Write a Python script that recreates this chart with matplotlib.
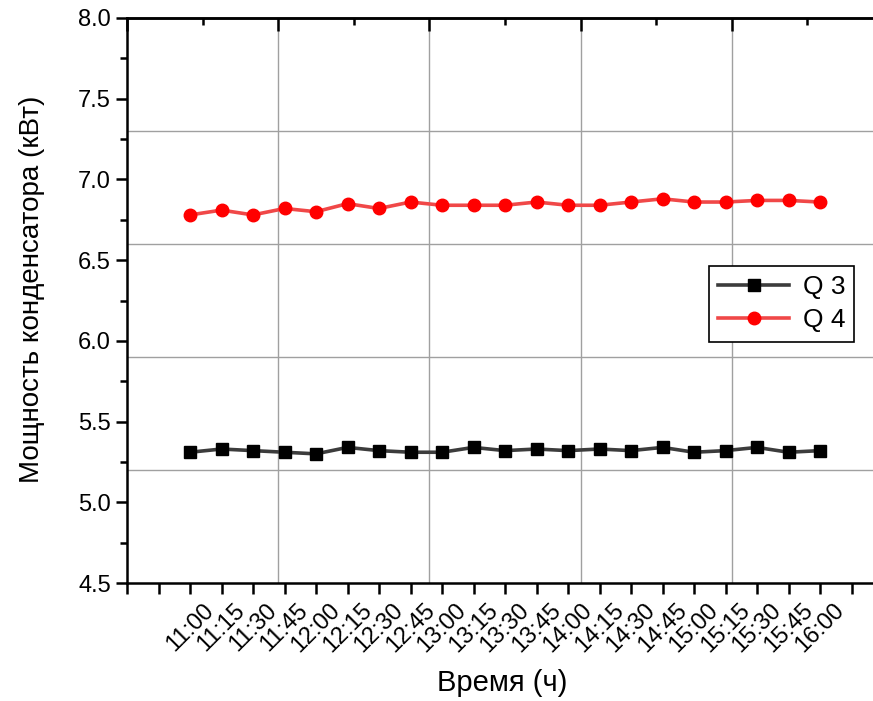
import matplotlib.pyplot as plt
import numpy as np

plt.rcParams['font.family'] = ['Liberation Sans', 'DejaVu Sans']

times = ['11:00', '11:15', '11:30', '11:45', '12:00', '12:15', '12:30', '12:45',
         '13:00', '13:15', '13:30', '13:45', '14:00', '14:15', '14:30', '14:45',
         '15:00', '15:15', '15:30', '15:45', '16:00']
q3 = [5.31, 5.33, 5.32, 5.31, 5.30, 5.34, 5.32, 5.31, 5.31, 5.34, 5.32,
      5.33, 5.32, 5.33, 5.32, 5.34, 5.31, 5.32, 5.34, 5.31, 5.32]
q4 = [6.78, 6.81, 6.78, 6.82, 6.80, 6.85, 6.82, 6.86, 6.84, 6.84, 6.84,
      6.86, 6.84, 6.84, 6.86, 6.88, 6.86, 6.86, 6.87, 6.87, 6.86]

W, H = 873, 701
fig = plt.figure(figsize=(W / 100, H / 100), dpi=100)
# axes run past the right edge of the picture (cropped like the original)
ax = fig.add_axes([127 / W, 1 - 583 / H, (883 - 127) / W, (583 - 18) / H])

x = np.arange(len(times))
ax.plot(x, q3, color='#3c3c3c', lw=2.6, marker='s', ms=9, mfc='black', mec='black', label='Q 3')
ax.plot(x, q4, color='#f04848', lw=2.6, marker='o', ms=9, mfc='red', mec='red', label='Q 4')

ax.set_xlim(-2, 22)
ax.set_ylim(4.5, 8.0)

# grid of Origin: 5 divisions over each axis
for gx in np.arange(-2, 22.01, 4.8)[1:-1]:
    ax.axvline(gx, color='#a0a0a0', lw=1, zorder=0)
for gy in np.arange(4.5, 8.01, 0.7)[1:-1]:
    ax.axhline(gy, color='#a0a0a0', lw=1, zorder=0)

ax.set_xticks(np.arange(-2, 22))
ax.set_xticklabels([''] * 2 + times + [''] * 1, rotation=45, ha='center', va='top')
ax.set_yticks(np.arange(4.5, 8.01, 0.5))
ax.set_yticks(np.arange(4.5, 8.01, 0.25), minor=True)
ax.tick_params(axis='both', labelsize=17, width=1.8, length=8, direction='out')
ax.tick_params(axis='x', labelsize=17, pad=4)
ax.tick_params(axis='y', which='minor', width=1.8, length=5)
ax.yaxis.set_major_formatter(plt.FormatStrFormatter('%.1f'))

for s in ax.spines.values():
    s.set_linewidth(1.8)

# top axis ticks (inside), like the Origin frame
top = ax.secondary_xaxis('top')
top.set_xticks(np.arange(-2, 22.01, 4.8))
top.set_xticks(np.arange(-2, 22.01, 2.4), minor=True)
top.tick_params(which='major', direction='in', length=9, width=1.8, labeltop=False)
top.tick_params(which='minor', direction='in', length=5, width=1.8)
top.spines['top'].set_linewidth(1.8)

ax.set_xlabel('Время (ч)', fontsize=21)
ax.set_ylabel('Мощность конденсатора (кВт)', fontsize=20)
ax.xaxis.set_label_coords(0.496, -0.152)
ax.yaxis.set_label_coords(-0.108, 0.519)

ax.legend(loc='upper left', bbox_to_anchor=(709 / W, 1 - 266 / H), bbox_transform=fig.transFigure,
          fontsize=19, frameon=True, fancybox=False, edgecolor='black', framealpha=1,
          borderaxespad=0, handlelength=2.7, borderpad=0.35, labelspacing=0.35, handletextpad=0.5)
ax.get_legend().get_frame().set_linewidth(1.2)

fig.savefig('out.png', dpi=100)
